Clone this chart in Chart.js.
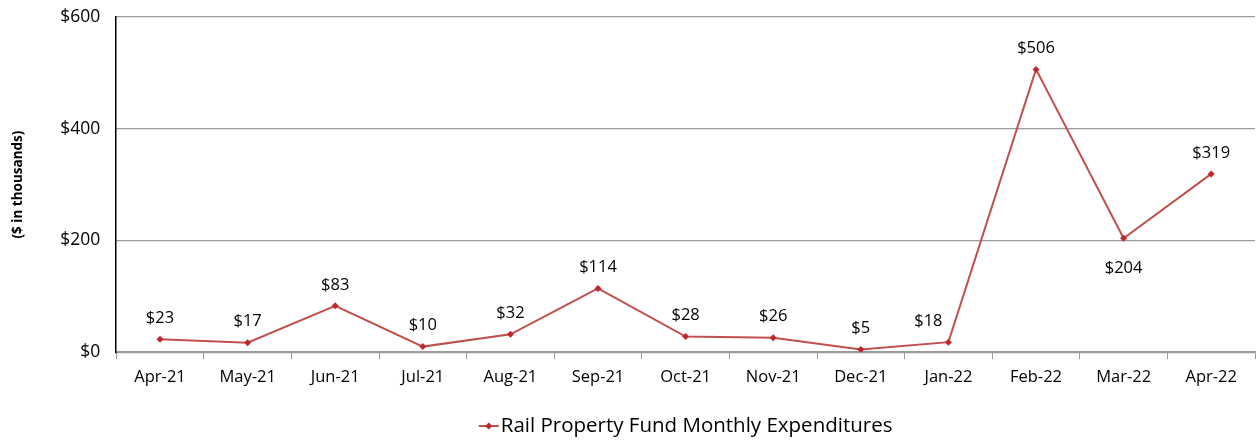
<!DOCTYPE html>
<html>
<head>
<meta charset="utf-8">
<script src="https://cdn.jsdelivr.net/npm/chart.js@4"></script>
<style>
  html, body { margin: 0; padding: 0; background: #fff; }
  #wrap { width: 1259px; height: 441px; }
</style>
</head>
<body>
<div id="wrap"><canvas id="chart1" width="1259" height="441"></canvas></div>
<script>
// valores
const months = ['Apr-21', 'May-21', 'Jun-21', 'Jul-21', 'Aug-21', 'Sep-21', 'Oct-21', 'Nov-21', 'Dec-21', 'Jan-22', 'Feb-22', 'Mar-22', 'Apr-22'];
const expenditures = [23, 17, 83, 10, 32, 114, 28, 26, 5, 18, 506, 204, 319];
const labelsBelow = ['Mar-22'];
const labelsLeft = ['Jan-22'];
const yTicks = [0, 200, 400, 600];
const seriesName = 'Rail Property Fund Monthly Expenditures';

const red = '#C0504D';
const marker = '#C0272D';
const fontFamily = "'Open Sans', 'Noto Sans', sans-serif";

Chart.defaults.font.family = fontFamily;
Chart.defaults.color = '#000';

function diamond(ctx, x, y, r) {
    ctx.beginPath();
    ctx.moveTo(x, y - r); ctx.lineTo(x + r, y); ctx.lineTo(x, y + r); ctx.lineTo(x - r, y);
    ctx.closePath(); ctx.fill();
}

// rotulos de valor acima/abaixo de cada ponto + legenda centrada na area do grafico
const valueLabels = {
    id: 'valueLabels',
    afterDatasetsDraw(chart) {
        const ctx = chart.ctx;
        const meta = chart.getDatasetMeta(0);
        ctx.save();
        ctx.font = '16.5px ' + fontFamily;
        ctx.fillStyle = '#000';
        ctx.textAlign = 'center';
        ctx.textBaseline = 'middle';
        meta.data.forEach((pt, i) => {
            const below = labelsBelow.includes(months[i]);
            const dx = labelsLeft.includes(months[i]) ? -20 : 0;
            ctx.fillText('$' + expenditures[i], pt.x + dx, below ? pt.y + 30 : pt.y - 21);
        });

        // legenda
        const area = chart.chartArea;
        ctx.font = '20.5px ' + fontFamily;
        const tw = ctx.measureText(seriesName).width;
        const iconW = 20, gap = 2;
        const total = iconW + gap + tw;
        const x0 = (area.left + area.right) / 2 - total / 2;
        const y0 = 426;
        ctx.strokeStyle = red; ctx.lineWidth = 2;
        ctx.beginPath(); ctx.moveTo(x0, y0); ctx.lineTo(x0 + iconW, y0); ctx.stroke();
        ctx.fillStyle = marker;
        diamond(ctx, x0 + iconW / 2, y0, 3.5);
        ctx.fillStyle = '#000';
        ctx.textAlign = 'left';
        ctx.fillText(seriesName, x0 + iconW + gap, y0);
        ctx.restore();
    }
};

const config1 = {
    type: 'line',
    data: {
        labels: months,
        datasets: [{
            label: seriesName,
            data: expenditures,
            borderColor: red,
            borderWidth: 2,
            backgroundColor: marker,
            pointStyle: 'rectRot',
            pointRadius: 3.5,
            pointBorderWidth: 0,
            tension: 0
        }]
    },
    options: {
        responsive: false,
        animation: false,
        layout: { padding: { top: 0, right: 3, left: 6, bottom: 46 } },
        plugins: {
            tooltip: { enabled: false },
            legend: { display: false }
        },
        scales: {
            x: {
                offset: true,
                grid: { offset: true, drawOnChartArea: false, color: '#9a9a9a', tickLength: 7 },
                border: { color: '#9a9a9a', width: 1.5 },
                ticks: { font: { size: 16.5 }, padding: 8, maxRotation: 0 }
            },
            y: {
                min: 0,
                max: 600,
                afterBuildTicks(axis) { axis.ticks = yTicks.map(v => ({ value: v })); },
                grid: { color: '#9a9a9a', drawTicks: false, lineWidth: 1.2 },
                border: { color: '#000', width: 1.5 },
                ticks: { font: { size: 17.5, lineHeight: 0.1 }, padding: 16, callback: v => '$' + v },
                title: { display: true, text: '($ in thousands)', font: { size: 13.5, weight: 'bold' }, padding: { bottom: 18 } }
            }
        }
    },
    plugins: [valueLabels]
};

new Chart(document.getElementById('chart1'), config1);
</script>
</body>
</html>
